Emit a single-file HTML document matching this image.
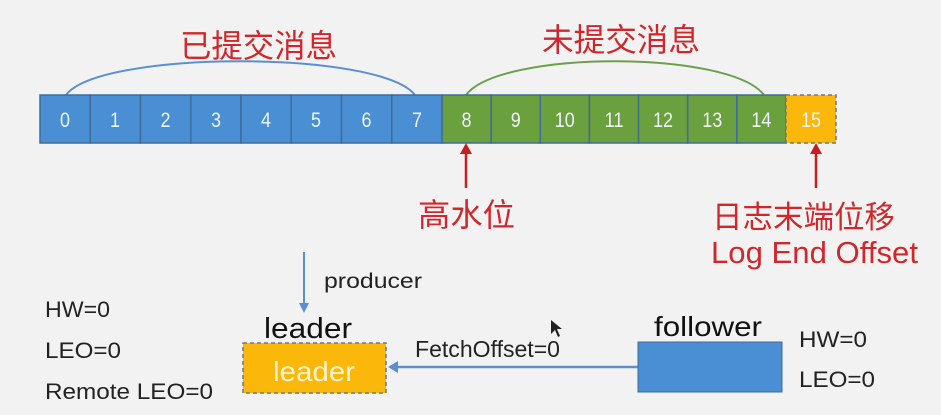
<!DOCTYPE html>
<html><head><meta charset="utf-8"><style>
html,body{margin:0;padding:0;background:#f2f2f2;}
svg{display:block;}
text{font-family:"Liberation Sans","Noto Sans CJK SC",sans-serif;}
</style></head><body>
<svg width="941" height="415" viewBox="0 0 941 415" xmlns="http://www.w3.org/2000/svg">
<rect width="941" height="415" fill="#f2f2f2"/>
<!-- arcs -->
<path d="M66 95 C 100 50, 380 50, 415 95" fill="none" stroke="#5b8fd0" stroke-width="2"/>
<path d="M466 95 C 500 50, 730 50, 764 95" fill="none" stroke="#6ba04a" stroke-width="2"/>
<text x="180" y="57" font-size="32" fill="#d0282a" textLength="157" lengthAdjust="spacingAndGlyphs">已提交消息</text>
<text x="542" y="51" font-size="32" fill="#d0282a" textLength="158" lengthAdjust="spacingAndGlyphs">未提交消息</text>
<!-- cells -->
<g stroke="#3f6c99" stroke-width="1.5">
<rect x="40" y="95" width="50.25" height="48" fill="#4a8ed4"/>
<rect x="90.25" y="95" width="50.25" height="48" fill="#4a8ed4"/>
<rect x="140.5" y="95" width="50.25" height="48" fill="#4a8ed4"/>
<rect x="190.75" y="95" width="50.25" height="48" fill="#4a8ed4"/>
<rect x="241" y="95" width="50.25" height="48" fill="#4a8ed4"/>
<rect x="291.25" y="95" width="50.25" height="48" fill="#4a8ed4"/>
<rect x="341.5" y="95" width="50.25" height="48" fill="#4a8ed4"/>
<rect x="391.75" y="95" width="50.25" height="48" fill="#4a8ed4"/>
<rect x="442" y="95" width="49.14" height="48" fill="#6ba03e"/>
<rect x="491.14" y="95" width="49.14" height="48" fill="#6ba03e"/>
<rect x="540.28" y="95" width="49.14" height="48" fill="#6ba03e"/>
<rect x="589.42" y="95" width="49.14" height="48" fill="#6ba03e"/>
<rect x="638.56" y="95" width="49.14" height="48" fill="#6ba03e"/>
<rect x="687.7" y="95" width="49.14" height="48" fill="#6ba03e"/>
<rect x="736.84" y="95" width="49.16" height="48" fill="#6ba03e"/>
<rect x="786" y="95" width="50" height="48" fill="#fbb80a" stroke="#6c7a80" stroke-dasharray="4,3"/>
</g>
<g font-size="21" fill="#eef4fb" text-anchor="middle">
<text x="65" y="127" textLength="10" lengthAdjust="spacingAndGlyphs">0</text><text x="115" y="127" textLength="10" lengthAdjust="spacingAndGlyphs">1</text><text x="165.5" y="127" textLength="10" lengthAdjust="spacingAndGlyphs">2</text><text x="216" y="127" textLength="10" lengthAdjust="spacingAndGlyphs">3</text>
<text x="266" y="127" textLength="10" lengthAdjust="spacingAndGlyphs">4</text><text x="316" y="127" textLength="10" lengthAdjust="spacingAndGlyphs">5</text><text x="366.5" y="127" textLength="10" lengthAdjust="spacingAndGlyphs">6</text><text x="417" y="127" textLength="10" lengthAdjust="spacingAndGlyphs">7</text>
<text x="466.5" y="127" textLength="10" lengthAdjust="spacingAndGlyphs">8</text><text x="515.7" y="127" textLength="10" lengthAdjust="spacingAndGlyphs">9</text><text x="564.8" y="127" textLength="20" lengthAdjust="spacingAndGlyphs">10</text><text x="614" y="127" textLength="19" lengthAdjust="spacingAndGlyphs">11</text>
<text x="663" y="127" textLength="20" lengthAdjust="spacingAndGlyphs">12</text><text x="712.2" y="127" textLength="20" lengthAdjust="spacingAndGlyphs">13</text><text x="761.4" y="127" textLength="20" lengthAdjust="spacingAndGlyphs">14</text><text x="811" y="127" textLength="20" lengthAdjust="spacingAndGlyphs">15</text>
</g>
<!-- red arrows -->
<g stroke="#c81e1e" stroke-width="2.5" fill="#c81e1e">
<line x1="466" y1="188" x2="466" y2="152"/>
<polygon points="460,154 472,154 466,143" stroke="none"/>
<line x1="816" y1="188" x2="816" y2="152"/>
<polygon points="810,154 822,154 816,143" stroke="none"/>
</g>
<text x="418" y="226" font-size="32" fill="#d0282a" textLength="97" lengthAdjust="spacingAndGlyphs">高水位</text>
<text x="712" y="228" font-size="31" fill="#d0282a" textLength="183" lengthAdjust="spacingAndGlyphs">日志末端位移</text>
<text x="711" y="263" font-size="31" fill="#d0282a" textLength="207" lengthAdjust="spacingAndGlyphs">Log End Offset</text>
<!-- producer arrow -->
<line x1="304" y1="252" x2="304" y2="305" stroke="#5b8fd0" stroke-width="2"/>
<polygon points="299,303 309,303 304,313" fill="#5b8fd0"/>
<text x="324" y="288" font-size="21" fill="#222" textLength="98" lengthAdjust="spacingAndGlyphs">producer</text>
<!-- left text -->
<g font-size="22" fill="#222">
<text x="45" y="317" textLength="65" lengthAdjust="spacingAndGlyphs">HW=0</text>
<text x="45" y="358" textLength="76" lengthAdjust="spacingAndGlyphs">LEO=0</text>
<text x="45" y="399" textLength="168" lengthAdjust="spacingAndGlyphs">Remote LEO=0</text>
<text x="799" y="347" textLength="68" lengthAdjust="spacingAndGlyphs">HW=0</text>
<text x="799" y="387" textLength="76" lengthAdjust="spacingAndGlyphs">LEO=0</text>
</g>
<text x="264" y="338" font-size="29" fill="#111" textLength="88" lengthAdjust="spacingAndGlyphs">leader</text>
<rect x="243" y="343" width="143" height="50" fill="#fbb80a" stroke="#6c7a80" stroke-width="1.5" stroke-dasharray="4,3"/>
<text x="314" y="381" font-size="28" fill="#fdf3d0" text-anchor="middle" textLength="82" lengthAdjust="spacingAndGlyphs">leader</text>
<!-- fetch arrow -->
<line x1="638" y1="367" x2="396" y2="367" stroke="#5b8fd0" stroke-width="2.5"/>
<polygon points="398,361 398,373 388,367" fill="#5b8fd0"/>
<text x="415" y="357" font-size="23" fill="#222" textLength="145" lengthAdjust="spacingAndGlyphs">FetchOffset=0</text>
<text x="654" y="336" font-size="28" fill="#111" textLength="108" lengthAdjust="spacingAndGlyphs">follower</text>
<rect x="638" y="342" width="144" height="50" fill="#4a8ed4" stroke="#3f6c99" stroke-width="1"/>
<!-- cursor -->
<polygon points="551,320 551,334 555,330 558,337 560,336 557,329 562,329" fill="#222"/>
</svg>
</body></html>
